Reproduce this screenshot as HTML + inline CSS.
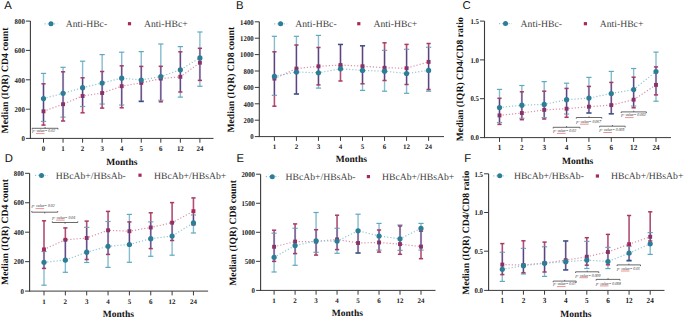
<!DOCTYPE html>
<html><head><meta charset="utf-8"><title>CD4 CD8 HBc</title>
<style>
html,body{margin:0;padding:0;background:#fff;}
body{width:685px;height:318px;overflow:hidden;}
svg{display:block;}
</style></head><body>
<svg width="685" height="318" viewBox="0 0 685 318" text-rendering="geometricPrecision">
<rect width="685" height="318" fill="#fff"/>
<text x="4.2" y="9" font-family='"Liberation Sans", sans-serif' font-size="11.3" font-weight="normal" font-style="normal" text-anchor="start" fill="#111" >A</text>
<text transform="translate(8.4,80.5) rotate(-90)" x="0" y="0" font-family='"Liberation Serif", serif' font-size="9.7" font-weight="bold" text-anchor="middle" fill="#111">Median (IQR) CD4 count</text>
<line x1="30.4" y1="21.1" x2="30.4" y2="138.9" stroke="#3a3a3a" stroke-width="1.1" />
<line x1="29.9" y1="138.4" x2="213.5" y2="138.4" stroke="#3a3a3a" stroke-width="1" />
<line x1="25.9" y1="21.1" x2="30.4" y2="21.1" stroke="#3a3a3a" stroke-width="1" />
<text transform="translate(24.8,23.84) scale(0.92,1)" font-family='"Liberation Serif", serif' font-size="7.4" font-weight="bold" text-anchor="end" fill="#1a1a1a">800</text>
<line x1="25.9" y1="50.4" x2="30.4" y2="50.4" stroke="#3a3a3a" stroke-width="1" />
<text transform="translate(24.8,53.14) scale(0.92,1)" font-family='"Liberation Serif", serif' font-size="7.4" font-weight="bold" text-anchor="end" fill="#1a1a1a">600</text>
<line x1="25.9" y1="79.8" x2="30.4" y2="79.8" stroke="#3a3a3a" stroke-width="1" />
<text transform="translate(24.8,82.54) scale(0.92,1)" font-family='"Liberation Serif", serif' font-size="7.4" font-weight="bold" text-anchor="end" fill="#1a1a1a">400</text>
<line x1="25.9" y1="109.2" x2="30.4" y2="109.2" stroke="#3a3a3a" stroke-width="1" />
<text transform="translate(24.8,111.94) scale(0.92,1)" font-family='"Liberation Serif", serif' font-size="7.4" font-weight="bold" text-anchor="end" fill="#1a1a1a">200</text>
<line x1="25.9" y1="138.4" x2="30.4" y2="138.4" stroke="#3a3a3a" stroke-width="1" />
<text transform="translate(24.8,141.14) scale(0.92,1)" font-family='"Liberation Serif", serif' font-size="7.4" font-weight="bold" text-anchor="end" fill="#1a1a1a">0</text>
<line x1="43.5" y1="138.4" x2="43.5" y2="142.7" stroke="#3a3a3a" stroke-width="1" />
<text transform="translate(43.5,150.7) scale(0.95,1)" font-family='"Liberation Serif", serif' font-size="7.3" font-weight="bold" text-anchor="middle" fill="#1a1a1a">0</text>
<line x1="63.05" y1="138.4" x2="63.05" y2="142.7" stroke="#3a3a3a" stroke-width="1" />
<text transform="translate(63.05,150.7) scale(0.95,1)" font-family='"Liberation Serif", serif' font-size="7.3" font-weight="bold" text-anchor="middle" fill="#1a1a1a">1</text>
<line x1="82.6" y1="138.4" x2="82.6" y2="142.7" stroke="#3a3a3a" stroke-width="1" />
<text transform="translate(82.6,150.7) scale(0.95,1)" font-family='"Liberation Serif", serif' font-size="7.3" font-weight="bold" text-anchor="middle" fill="#1a1a1a">2</text>
<line x1="102.15" y1="138.4" x2="102.15" y2="142.7" stroke="#3a3a3a" stroke-width="1" />
<text transform="translate(102.15,150.7) scale(0.95,1)" font-family='"Liberation Serif", serif' font-size="7.3" font-weight="bold" text-anchor="middle" fill="#1a1a1a">3</text>
<line x1="121.7" y1="138.4" x2="121.7" y2="142.7" stroke="#3a3a3a" stroke-width="1" />
<text transform="translate(121.7,150.7) scale(0.95,1)" font-family='"Liberation Serif", serif' font-size="7.3" font-weight="bold" text-anchor="middle" fill="#1a1a1a">4</text>
<line x1="141.25" y1="138.4" x2="141.25" y2="142.7" stroke="#3a3a3a" stroke-width="1" />
<text transform="translate(141.25,150.7) scale(0.95,1)" font-family='"Liberation Serif", serif' font-size="7.3" font-weight="bold" text-anchor="middle" fill="#1a1a1a">5</text>
<line x1="160.8" y1="138.4" x2="160.8" y2="142.7" stroke="#3a3a3a" stroke-width="1" />
<text transform="translate(160.8,150.7) scale(0.95,1)" font-family='"Liberation Serif", serif' font-size="7.3" font-weight="bold" text-anchor="middle" fill="#1a1a1a">6</text>
<line x1="180.35" y1="138.4" x2="180.35" y2="142.7" stroke="#3a3a3a" stroke-width="1" />
<text transform="translate(180.35,150.7) scale(0.95,1)" font-family='"Liberation Serif", serif' font-size="7.3" font-weight="bold" text-anchor="middle" fill="#1a1a1a">12</text>
<line x1="199.9" y1="138.4" x2="199.9" y2="142.7" stroke="#3a3a3a" stroke-width="1" />
<text transform="translate(199.9,150.7) scale(0.95,1)" font-family='"Liberation Serif", serif' font-size="7.3" font-weight="bold" text-anchor="middle" fill="#1a1a1a">24</text>
<text x="121.8" y="164.5" font-family='"Liberation Serif", serif' font-size="9.5" font-weight="bold" font-style="normal" text-anchor="middle" fill="#111" >Months</text>
<line x1="44.5" y1="23.8" x2="57.5" y2="23.8" stroke="#94c6d5" stroke-width="1.2" stroke-dasharray="1.2 1.95"/>
<circle cx="51" cy="23.8" r="2.5" fill="#2b7e97"/>
<text x="65.7" y="27.2" font-family='"Liberation Serif", serif' font-size="9.7" font-weight="normal" font-style="normal" text-anchor="start" fill="#404040" >Anti-HBc-</text>
<rect x="127.9" y="22.1" width="3.2" height="3.2" fill="#a8285a"/>
<text x="144" y="27.2" font-family='"Liberation Serif", serif' font-size="9.7" font-weight="normal" font-style="normal" text-anchor="start" fill="#404040" >Anti-HBc+</text>
<polyline points="43.5,111.3 63.05,104.2 82.6,96 102.15,93 121.7,86.2 141.25,82.9 160.8,78.6 180.35,76.8 199.9,62.7" fill="none" stroke="#d990ab" stroke-width="1.2" stroke-dasharray="1.2 1.95"/>
<polyline points="43.5,98.6 63.05,93.3 82.6,87.7 102.15,83 121.7,78.2 141.25,80 160.8,76.6 180.35,69.8 199.9,57.9" fill="none" stroke="#94c6d5" stroke-width="1.2" stroke-dasharray="1.2 1.95"/>
<line x1="43.5" y1="73.4" x2="43.5" y2="121.4" stroke="#86bccd" stroke-width="1.4" />
<line x1="40.9" y1="73.4" x2="46.1" y2="73.4" stroke="#5ea9c1" stroke-width="1.2" />
<line x1="40.9" y1="121.4" x2="46.1" y2="121.4" stroke="#5ea9c1" stroke-width="1.2" />
<line x1="63.05" y1="67.3" x2="63.05" y2="117.1" stroke="#86bccd" stroke-width="1.4" />
<line x1="60.45" y1="67.3" x2="65.65" y2="67.3" stroke="#5ea9c1" stroke-width="1.2" />
<line x1="60.45" y1="117.1" x2="65.65" y2="117.1" stroke="#5ea9c1" stroke-width="1.2" />
<line x1="82.6" y1="61.2" x2="82.6" y2="106.5" stroke="#86bccd" stroke-width="1.4" />
<line x1="80" y1="61.2" x2="85.2" y2="61.2" stroke="#5ea9c1" stroke-width="1.2" />
<line x1="80" y1="106.5" x2="85.2" y2="106.5" stroke="#5ea9c1" stroke-width="1.2" />
<line x1="102.15" y1="54.6" x2="102.15" y2="104" stroke="#86bccd" stroke-width="1.4" />
<line x1="99.55" y1="54.6" x2="104.75" y2="54.6" stroke="#5ea9c1" stroke-width="1.2" />
<line x1="99.55" y1="104" x2="104.75" y2="104" stroke="#5ea9c1" stroke-width="1.2" />
<line x1="121.7" y1="52.2" x2="121.7" y2="105" stroke="#86bccd" stroke-width="1.4" />
<line x1="119.1" y1="52.2" x2="124.3" y2="52.2" stroke="#5ea9c1" stroke-width="1.2" />
<line x1="119.1" y1="105" x2="124.3" y2="105" stroke="#5ea9c1" stroke-width="1.2" />
<line x1="141.25" y1="51.6" x2="141.25" y2="100.9" stroke="#86bccd" stroke-width="1.4" />
<line x1="138.65" y1="51.6" x2="143.85" y2="51.6" stroke="#5ea9c1" stroke-width="1.2" />
<line x1="138.65" y1="100.9" x2="143.85" y2="100.9" stroke="#5ea9c1" stroke-width="1.2" />
<line x1="160.8" y1="44" x2="160.8" y2="100.3" stroke="#86bccd" stroke-width="1.4" />
<line x1="158.2" y1="44" x2="163.4" y2="44" stroke="#5ea9c1" stroke-width="1.2" />
<line x1="158.2" y1="100.3" x2="163.4" y2="100.3" stroke="#5ea9c1" stroke-width="1.2" />
<line x1="180.35" y1="46.6" x2="180.35" y2="97.1" stroke="#86bccd" stroke-width="1.4" />
<line x1="177.75" y1="46.6" x2="182.95" y2="46.6" stroke="#5ea9c1" stroke-width="1.2" />
<line x1="177.75" y1="97.1" x2="182.95" y2="97.1" stroke="#5ea9c1" stroke-width="1.2" />
<line x1="199.9" y1="32" x2="199.9" y2="86.3" stroke="#86bccd" stroke-width="1.4" />
<line x1="197.3" y1="32" x2="202.5" y2="32" stroke="#5ea9c1" stroke-width="1.2" />
<line x1="197.3" y1="86.3" x2="202.5" y2="86.3" stroke="#5ea9c1" stroke-width="1.2" />
<line x1="43.5" y1="121.4" x2="43.5" y2="125.1" stroke="#b04e74" stroke-width="1.6" />
<line x1="43.5" y1="83.8" x2="43.5" y2="121.4" stroke="#e6c6d4" stroke-width="2.3" />
<rect x="41.55" y="109.35" width="3.9" height="3.9" fill="#a8285a"/>
<line x1="43.5" y1="83.8" x2="43.5" y2="121.4" stroke="#4f4987" stroke-width="1.2" />
<line x1="41.4" y1="83.8" x2="45.6" y2="83.8" stroke="#a83a64" stroke-width="1.5" />
<line x1="41.4" y1="125.1" x2="45.6" y2="125.1" stroke="#a83a64" stroke-width="1.5" />
<line x1="63.05" y1="117.1" x2="63.05" y2="121" stroke="#b04e74" stroke-width="1.6" />
<line x1="63.05" y1="71.8" x2="63.05" y2="117.1" stroke="#e6c6d4" stroke-width="2.3" />
<rect x="61.1" y="102.25" width="3.9" height="3.9" fill="#a8285a"/>
<line x1="63.05" y1="71.8" x2="63.05" y2="117.1" stroke="#4f4987" stroke-width="1.2" />
<line x1="60.95" y1="71.8" x2="65.15" y2="71.8" stroke="#a83a64" stroke-width="1.5" />
<line x1="60.95" y1="121" x2="65.15" y2="121" stroke="#a83a64" stroke-width="1.5" />
<line x1="82.6" y1="106.5" x2="82.6" y2="112.8" stroke="#b04e74" stroke-width="1.6" />
<line x1="82.6" y1="77.8" x2="82.6" y2="106.5" stroke="#e6c6d4" stroke-width="2.3" />
<rect x="80.65" y="94.05" width="3.9" height="3.9" fill="#a8285a"/>
<line x1="82.6" y1="77.8" x2="82.6" y2="106.5" stroke="#4f4987" stroke-width="1.2" />
<line x1="80.5" y1="77.8" x2="84.7" y2="77.8" stroke="#a83a64" stroke-width="1.5" />
<line x1="80.5" y1="112.8" x2="84.7" y2="112.8" stroke="#a83a64" stroke-width="1.5" />
<line x1="102.15" y1="104" x2="102.15" y2="108.1" stroke="#b04e74" stroke-width="1.6" />
<line x1="102.15" y1="71.5" x2="102.15" y2="104" stroke="#e6c6d4" stroke-width="2.3" />
<rect x="100.2" y="91.05" width="3.9" height="3.9" fill="#a8285a"/>
<line x1="102.15" y1="71.5" x2="102.15" y2="104" stroke="#4f4987" stroke-width="1.2" />
<line x1="100.05" y1="71.5" x2="104.25" y2="71.5" stroke="#a83a64" stroke-width="1.5" />
<line x1="100.05" y1="108.1" x2="104.25" y2="108.1" stroke="#a83a64" stroke-width="1.5" />
<line x1="121.7" y1="105" x2="121.7" y2="107.8" stroke="#b04e74" stroke-width="1.6" />
<line x1="121.7" y1="65.8" x2="121.7" y2="105" stroke="#e6c6d4" stroke-width="2.3" />
<rect x="119.75" y="84.25" width="3.9" height="3.9" fill="#a8285a"/>
<line x1="121.7" y1="65.8" x2="121.7" y2="105" stroke="#4f4987" stroke-width="1.2" />
<line x1="119.6" y1="65.8" x2="123.8" y2="65.8" stroke="#a83a64" stroke-width="1.5" />
<line x1="119.6" y1="107.8" x2="123.8" y2="107.8" stroke="#a83a64" stroke-width="1.5" />
<line x1="141.25" y1="100.9" x2="141.25" y2="101.5" stroke="#b04e74" stroke-width="1.6" />
<line x1="141.25" y1="66.4" x2="141.25" y2="100.9" stroke="#e6c6d4" stroke-width="2.3" />
<rect x="139.3" y="80.95" width="3.9" height="3.9" fill="#a8285a"/>
<line x1="141.25" y1="66.4" x2="141.25" y2="100.9" stroke="#4f4987" stroke-width="1.2" />
<line x1="139.15" y1="66.4" x2="143.35" y2="66.4" stroke="#a83a64" stroke-width="1.5" />
<line x1="138.75" y1="101.5" x2="143.75" y2="101.5" stroke="#3f4a80" stroke-width="1.4" />
<line x1="160.8" y1="100.3" x2="160.8" y2="101.8" stroke="#b04e74" stroke-width="1.6" />
<line x1="160.8" y1="66.3" x2="160.8" y2="100.3" stroke="#e6c6d4" stroke-width="2.3" />
<rect x="158.85" y="76.65" width="3.9" height="3.9" fill="#a8285a"/>
<line x1="160.8" y1="66.3" x2="160.8" y2="100.3" stroke="#4f4987" stroke-width="1.2" />
<line x1="158.7" y1="66.3" x2="162.9" y2="66.3" stroke="#a83a64" stroke-width="1.5" />
<line x1="158.7" y1="101.8" x2="162.9" y2="101.8" stroke="#a83a64" stroke-width="1.5" />
<line x1="180.35" y1="51.8" x2="180.35" y2="92" stroke="#e6c6d4" stroke-width="2.3" />
<rect x="178.4" y="74.85" width="3.9" height="3.9" fill="#a8285a"/>
<line x1="180.35" y1="51.8" x2="180.35" y2="92" stroke="#4f4987" stroke-width="1.2" />
<line x1="178.25" y1="51.8" x2="182.45" y2="51.8" stroke="#a83a64" stroke-width="1.5" />
<line x1="178.25" y1="92" x2="182.45" y2="92" stroke="#a83a64" stroke-width="1.5" />
<line x1="199.9" y1="48.3" x2="199.9" y2="80.4" stroke="#e6c6d4" stroke-width="2.3" />
<rect x="197.95" y="60.75" width="3.9" height="3.9" fill="#a8285a"/>
<line x1="199.9" y1="48.3" x2="199.9" y2="80.4" stroke="#4f4987" stroke-width="1.2" />
<line x1="197.8" y1="48.3" x2="202" y2="48.3" stroke="#a83a64" stroke-width="1.5" />
<line x1="197.8" y1="80.4" x2="202" y2="80.4" stroke="#a83a64" stroke-width="1.5" />
<circle cx="43.5" cy="98.6" r="2.6" fill="#2b7e97"/>
<circle cx="63.05" cy="93.3" r="2.6" fill="#2b7e97"/>
<circle cx="82.6" cy="87.7" r="2.6" fill="#2b7e97"/>
<circle cx="102.15" cy="83" r="2.6" fill="#2b7e97"/>
<circle cx="121.7" cy="78.2" r="2.6" fill="#2b7e97"/>
<circle cx="141.25" cy="80" r="2.6" fill="#2b7e97"/>
<circle cx="160.8" cy="76.6" r="2.6" fill="#2b7e97"/>
<circle cx="180.35" cy="69.8" r="2.6" fill="#2b7e97"/>
<circle cx="199.9" cy="57.9" r="2.6" fill="#2b7e97"/>
<path d="M32.2,129.5 L32.2,128.3 L58,128.3 L58,129.5 M45.1,128.3 L45.1,127.1" fill="none" stroke="#444" stroke-width="0.8"/>
<text transform="translate(32.2,132.4) scale(0.86,1)" font-family='"Liberation Serif", serif' font-size="4.5" font-style="italic" fill="#333">p- value= 0.02</text>
<line x1="36" y1="133.6" x2="44.6" y2="133.6" stroke="#e04848" stroke-width="0.6"/>
<text x="236" y="9" font-family='"Liberation Sans", sans-serif' font-size="11.3" font-weight="normal" font-style="normal" text-anchor="start" fill="#111" >B</text>
<text transform="translate(234.2,79.7) rotate(-90)" x="0" y="0" font-family='"Liberation Serif", serif' font-size="9.7" font-weight="bold" text-anchor="middle" fill="#111">Median (IQR) CD8 count</text>
<line x1="259.3" y1="21.8" x2="259.3" y2="137.1" stroke="#3a3a3a" stroke-width="1.1" />
<line x1="258.8" y1="136.6" x2="444" y2="136.6" stroke="#3a3a3a" stroke-width="1" />
<line x1="254.8" y1="21.8" x2="259.3" y2="21.8" stroke="#3a3a3a" stroke-width="1" />
<text transform="translate(253.7,24.54) scale(0.92,1)" font-family='"Liberation Serif", serif' font-size="7.4" font-weight="bold" text-anchor="end" fill="#1a1a1a">1400</text>
<line x1="254.8" y1="38.2" x2="259.3" y2="38.2" stroke="#3a3a3a" stroke-width="1" />
<text transform="translate(253.7,40.94) scale(0.92,1)" font-family='"Liberation Serif", serif' font-size="7.4" font-weight="bold" text-anchor="end" fill="#1a1a1a">1200</text>
<line x1="254.8" y1="54.6" x2="259.3" y2="54.6" stroke="#3a3a3a" stroke-width="1" />
<text transform="translate(253.7,57.34) scale(0.92,1)" font-family='"Liberation Serif", serif' font-size="7.4" font-weight="bold" text-anchor="end" fill="#1a1a1a">1000</text>
<line x1="254.8" y1="71" x2="259.3" y2="71" stroke="#3a3a3a" stroke-width="1" />
<text transform="translate(253.7,73.74) scale(0.92,1)" font-family='"Liberation Serif", serif' font-size="7.4" font-weight="bold" text-anchor="end" fill="#1a1a1a">800</text>
<line x1="254.8" y1="87.4" x2="259.3" y2="87.4" stroke="#3a3a3a" stroke-width="1" />
<text transform="translate(253.7,90.14) scale(0.92,1)" font-family='"Liberation Serif", serif' font-size="7.4" font-weight="bold" text-anchor="end" fill="#1a1a1a">600</text>
<line x1="254.8" y1="103.8" x2="259.3" y2="103.8" stroke="#3a3a3a" stroke-width="1" />
<text transform="translate(253.7,106.54) scale(0.92,1)" font-family='"Liberation Serif", serif' font-size="7.4" font-weight="bold" text-anchor="end" fill="#1a1a1a">400</text>
<line x1="254.8" y1="120.2" x2="259.3" y2="120.2" stroke="#3a3a3a" stroke-width="1" />
<text transform="translate(253.7,122.94) scale(0.92,1)" font-family='"Liberation Serif", serif' font-size="7.4" font-weight="bold" text-anchor="end" fill="#1a1a1a">200</text>
<line x1="254.8" y1="136.6" x2="259.3" y2="136.6" stroke="#3a3a3a" stroke-width="1" />
<text transform="translate(253.7,139.34) scale(0.92,1)" font-family='"Liberation Serif", serif' font-size="7.4" font-weight="bold" text-anchor="end" fill="#1a1a1a">0</text>
<line x1="274.4" y1="136.6" x2="274.4" y2="140.9" stroke="#3a3a3a" stroke-width="1" />
<text transform="translate(274.4,149) scale(1.0,1)" font-family='"Liberation Serif", serif' font-size="7" font-weight="bold" text-anchor="middle" fill="#1a1a1a">1</text>
<line x1="296.43" y1="136.6" x2="296.43" y2="140.9" stroke="#3a3a3a" stroke-width="1" />
<text transform="translate(296.43,149) scale(1.0,1)" font-family='"Liberation Serif", serif' font-size="7" font-weight="bold" text-anchor="middle" fill="#1a1a1a">2</text>
<line x1="318.46" y1="136.6" x2="318.46" y2="140.9" stroke="#3a3a3a" stroke-width="1" />
<text transform="translate(318.46,149) scale(1.0,1)" font-family='"Liberation Serif", serif' font-size="7" font-weight="bold" text-anchor="middle" fill="#1a1a1a">3</text>
<line x1="340.49" y1="136.6" x2="340.49" y2="140.9" stroke="#3a3a3a" stroke-width="1" />
<text transform="translate(340.49,149) scale(1.0,1)" font-family='"Liberation Serif", serif' font-size="7" font-weight="bold" text-anchor="middle" fill="#1a1a1a">4</text>
<line x1="362.51" y1="136.6" x2="362.51" y2="140.9" stroke="#3a3a3a" stroke-width="1" />
<text transform="translate(362.51,149) scale(1.0,1)" font-family='"Liberation Serif", serif' font-size="7" font-weight="bold" text-anchor="middle" fill="#1a1a1a">5</text>
<line x1="384.54" y1="136.6" x2="384.54" y2="140.9" stroke="#3a3a3a" stroke-width="1" />
<text transform="translate(384.54,149) scale(1.0,1)" font-family='"Liberation Serif", serif' font-size="7" font-weight="bold" text-anchor="middle" fill="#1a1a1a">6</text>
<line x1="406.57" y1="136.6" x2="406.57" y2="140.9" stroke="#3a3a3a" stroke-width="1" />
<text transform="translate(406.57,149) scale(1.0,1)" font-family='"Liberation Serif", serif' font-size="7" font-weight="bold" text-anchor="middle" fill="#1a1a1a">12</text>
<line x1="428.6" y1="136.6" x2="428.6" y2="140.9" stroke="#3a3a3a" stroke-width="1" />
<text transform="translate(428.6,149) scale(1.0,1)" font-family='"Liberation Serif", serif' font-size="7" font-weight="bold" text-anchor="middle" fill="#1a1a1a">24</text>
<text x="351.4" y="162.2" font-family='"Liberation Serif", serif' font-size="9.5" font-weight="bold" font-style="normal" text-anchor="middle" fill="#111" >Months</text>
<line x1="274.1" y1="23.8" x2="287.1" y2="23.8" stroke="#94c6d5" stroke-width="1.2" stroke-dasharray="1.2 1.95"/>
<circle cx="280.6" cy="23.8" r="2.5" fill="#2b7e97"/>
<text x="295.2" y="27.2" font-family='"Liberation Serif", serif' font-size="9.7" font-weight="normal" font-style="normal" text-anchor="start" fill="#404040" >Anti-HBc-</text>
<rect x="357.2" y="22.1" width="3.2" height="3.2" fill="#a8285a"/>
<text x="373.5" y="27.2" font-family='"Liberation Serif", serif' font-size="9.7" font-weight="normal" font-style="normal" text-anchor="start" fill="#404040" >Anti-HBc+</text>
<polyline points="274.4,78.6 296.43,68.6 318.46,66.3 340.49,65 362.51,66.2 384.54,67.8 406.57,68.2 428.6,61.9" fill="none" stroke="#d990ab" stroke-width="1.2" stroke-dasharray="1.2 1.95"/>
<polyline points="274.4,76.4 296.43,72 318.46,72.8 340.49,68.8 362.51,70.4 384.54,71.2 406.57,73.5 428.6,70.4" fill="none" stroke="#94c6d5" stroke-width="1.2" stroke-dasharray="1.2 1.95"/>
<line x1="274.4" y1="36.3" x2="274.4" y2="95.3" stroke="#86bccd" stroke-width="1.4" />
<line x1="271.8" y1="36.3" x2="277" y2="36.3" stroke="#5ea9c1" stroke-width="1.2" />
<line x1="271.8" y1="95.3" x2="277" y2="95.3" stroke="#5ea9c1" stroke-width="1.2" />
<line x1="296.43" y1="36.3" x2="296.43" y2="94" stroke="#86bccd" stroke-width="1.4" />
<line x1="293.83" y1="36.3" x2="299.03" y2="36.3" stroke="#5ea9c1" stroke-width="1.2" />
<line x1="293.83" y1="94" x2="299.03" y2="94" stroke="#5ea9c1" stroke-width="1.2" />
<line x1="318.46" y1="35.4" x2="318.46" y2="88.1" stroke="#86bccd" stroke-width="1.4" />
<line x1="315.86" y1="35.4" x2="321.06" y2="35.4" stroke="#5ea9c1" stroke-width="1.2" />
<line x1="315.86" y1="88.1" x2="321.06" y2="88.1" stroke="#5ea9c1" stroke-width="1.2" />
<line x1="340.49" y1="44.4" x2="340.49" y2="65.8" stroke="#86bccd" stroke-width="1.4" />
<line x1="337.89" y1="44.4" x2="343.09" y2="44.4" stroke="#5ea9c1" stroke-width="1.2" />
<line x1="337.89" y1="65.8" x2="343.09" y2="65.8" stroke="#5ea9c1" stroke-width="1.2" />
<line x1="362.51" y1="45.7" x2="362.51" y2="90.4" stroke="#86bccd" stroke-width="1.4" />
<line x1="359.91" y1="45.7" x2="365.11" y2="45.7" stroke="#5ea9c1" stroke-width="1.2" />
<line x1="359.91" y1="90.4" x2="365.11" y2="90.4" stroke="#5ea9c1" stroke-width="1.2" />
<line x1="384.54" y1="50.4" x2="384.54" y2="91.2" stroke="#86bccd" stroke-width="1.4" />
<line x1="381.94" y1="50.4" x2="387.14" y2="50.4" stroke="#5ea9c1" stroke-width="1.2" />
<line x1="381.94" y1="91.2" x2="387.14" y2="91.2" stroke="#5ea9c1" stroke-width="1.2" />
<line x1="406.57" y1="49.3" x2="406.57" y2="93.3" stroke="#86bccd" stroke-width="1.4" />
<line x1="403.97" y1="49.3" x2="409.17" y2="49.3" stroke="#5ea9c1" stroke-width="1.2" />
<line x1="403.97" y1="93.3" x2="409.17" y2="93.3" stroke="#5ea9c1" stroke-width="1.2" />
<line x1="428.6" y1="47.3" x2="428.6" y2="91.2" stroke="#86bccd" stroke-width="1.4" />
<line x1="426" y1="47.3" x2="431.2" y2="47.3" stroke="#5ea9c1" stroke-width="1.2" />
<line x1="426" y1="91.2" x2="431.2" y2="91.2" stroke="#5ea9c1" stroke-width="1.2" />
<line x1="274.4" y1="95.3" x2="274.4" y2="106.2" stroke="#b04e74" stroke-width="1.6" />
<line x1="274.4" y1="51.8" x2="274.4" y2="95.3" stroke="#e6c6d4" stroke-width="2.3" />
<rect x="272.45" y="76.65" width="3.9" height="3.9" fill="#a8285a"/>
<line x1="274.4" y1="51.8" x2="274.4" y2="95.3" stroke="#4f4987" stroke-width="1.2" />
<line x1="272.3" y1="51.8" x2="276.5" y2="51.8" stroke="#a83a64" stroke-width="1.5" />
<line x1="272.3" y1="106.2" x2="276.5" y2="106.2" stroke="#a83a64" stroke-width="1.5" />
<line x1="296.43" y1="45" x2="296.43" y2="94" stroke="#e6c6d4" stroke-width="2.3" />
<rect x="294.48" y="66.65" width="3.9" height="3.9" fill="#a8285a"/>
<line x1="296.43" y1="45" x2="296.43" y2="94" stroke="#4f4987" stroke-width="1.2" />
<line x1="294.33" y1="45" x2="298.53" y2="45" stroke="#a83a64" stroke-width="1.5" />
<line x1="293.93" y1="94" x2="298.93" y2="94" stroke="#3f4a80" stroke-width="1.4" />
<line x1="318.46" y1="47.5" x2="318.46" y2="84.9" stroke="#e6c6d4" stroke-width="2.3" />
<rect x="316.51" y="64.35" width="3.9" height="3.9" fill="#a8285a"/>
<line x1="318.46" y1="47.5" x2="318.46" y2="84.9" stroke="#4f4987" stroke-width="1.2" />
<line x1="316.36" y1="47.5" x2="320.56" y2="47.5" stroke="#a83a64" stroke-width="1.5" />
<line x1="316.36" y1="84.9" x2="320.56" y2="84.9" stroke="#a83a64" stroke-width="1.5" />
<line x1="340.49" y1="65.8" x2="340.49" y2="81" stroke="#b04e74" stroke-width="1.6" />
<line x1="340.49" y1="44.5" x2="340.49" y2="65.8" stroke="#e6c6d4" stroke-width="2.3" />
<rect x="338.54" y="63.05" width="3.9" height="3.9" fill="#a8285a"/>
<line x1="340.49" y1="44.5" x2="340.49" y2="65.8" stroke="#4f4987" stroke-width="1.2" />
<line x1="337.99" y1="44.5" x2="342.99" y2="44.5" stroke="#3f4a80" stroke-width="1.4" />
<line x1="338.39" y1="81" x2="342.59" y2="81" stroke="#a83a64" stroke-width="1.5" />
<line x1="362.51" y1="45.8" x2="362.51" y2="83.8" stroke="#e6c6d4" stroke-width="2.3" />
<rect x="360.56" y="64.25" width="3.9" height="3.9" fill="#a8285a"/>
<line x1="362.51" y1="45.8" x2="362.51" y2="83.8" stroke="#4f4987" stroke-width="1.2" />
<line x1="360.01" y1="45.8" x2="365.01" y2="45.8" stroke="#3f4a80" stroke-width="1.4" />
<line x1="360.41" y1="83.8" x2="364.61" y2="83.8" stroke="#a83a64" stroke-width="1.5" />
<line x1="384.54" y1="42.8" x2="384.54" y2="50.4" stroke="#b04e74" stroke-width="1.6" />
<line x1="384.54" y1="50.4" x2="384.54" y2="80.5" stroke="#e6c6d4" stroke-width="2.3" />
<rect x="382.59" y="65.85" width="3.9" height="3.9" fill="#a8285a"/>
<line x1="384.54" y1="50.4" x2="384.54" y2="80.5" stroke="#4f4987" stroke-width="1.2" />
<line x1="382.44" y1="42.8" x2="386.64" y2="42.8" stroke="#a83a64" stroke-width="1.5" />
<line x1="382.44" y1="80.5" x2="386.64" y2="80.5" stroke="#a83a64" stroke-width="1.5" />
<line x1="406.57" y1="44.4" x2="406.57" y2="49.3" stroke="#b04e74" stroke-width="1.6" />
<line x1="406.57" y1="49.3" x2="406.57" y2="84.5" stroke="#e6c6d4" stroke-width="2.3" />
<rect x="404.62" y="66.25" width="3.9" height="3.9" fill="#a8285a"/>
<line x1="406.57" y1="49.3" x2="406.57" y2="84.5" stroke="#4f4987" stroke-width="1.2" />
<line x1="404.47" y1="44.4" x2="408.67" y2="44.4" stroke="#a83a64" stroke-width="1.5" />
<line x1="404.47" y1="84.5" x2="408.67" y2="84.5" stroke="#a83a64" stroke-width="1.5" />
<line x1="428.6" y1="43.5" x2="428.6" y2="47.3" stroke="#b04e74" stroke-width="1.6" />
<line x1="428.6" y1="47.3" x2="428.6" y2="89.5" stroke="#e6c6d4" stroke-width="2.3" />
<rect x="426.65" y="59.95" width="3.9" height="3.9" fill="#a8285a"/>
<line x1="428.6" y1="47.3" x2="428.6" y2="89.5" stroke="#4f4987" stroke-width="1.2" />
<line x1="426.5" y1="43.5" x2="430.7" y2="43.5" stroke="#a83a64" stroke-width="1.5" />
<line x1="426.5" y1="89.5" x2="430.7" y2="89.5" stroke="#a83a64" stroke-width="1.5" />
<circle cx="274.4" cy="76.4" r="2.6" fill="#2b7e97"/>
<circle cx="296.43" cy="72" r="2.6" fill="#2b7e97"/>
<circle cx="318.46" cy="72.8" r="2.6" fill="#2b7e97"/>
<circle cx="340.49" cy="68.8" r="2.6" fill="#2b7e97"/>
<circle cx="362.51" cy="70.4" r="2.6" fill="#2b7e97"/>
<circle cx="384.54" cy="71.2" r="2.6" fill="#2b7e97"/>
<circle cx="406.57" cy="73.5" r="2.6" fill="#2b7e97"/>
<circle cx="428.6" cy="70.4" r="2.6" fill="#2b7e97"/>
<text x="462.6" y="9" font-family='"Liberation Sans", sans-serif' font-size="11.3" font-weight="normal" font-style="normal" text-anchor="start" fill="#111" >C</text>
<text transform="translate(462.8,79.3) rotate(-90)" x="0" y="0" font-family='"Liberation Serif", serif' font-size="9.7" font-weight="bold" text-anchor="middle" fill="#111">Median (IQR) CD4/CD8 ratio</text>
<line x1="484.5" y1="21.1" x2="484.5" y2="138.1" stroke="#3a3a3a" stroke-width="1.1" />
<line x1="484" y1="137.6" x2="671" y2="137.6" stroke="#3a3a3a" stroke-width="1" />
<line x1="480" y1="21.1" x2="484.5" y2="21.1" stroke="#3a3a3a" stroke-width="1" />
<text transform="translate(478.9,23.84) scale(0.92,1)" font-family='"Liberation Serif", serif' font-size="7.4" font-weight="bold" text-anchor="end" fill="#1a1a1a">1.5</text>
<line x1="480" y1="59.9" x2="484.5" y2="59.9" stroke="#3a3a3a" stroke-width="1" />
<text transform="translate(478.9,62.64) scale(0.92,1)" font-family='"Liberation Serif", serif' font-size="7.4" font-weight="bold" text-anchor="end" fill="#1a1a1a">1.0</text>
<line x1="480" y1="98.7" x2="484.5" y2="98.7" stroke="#3a3a3a" stroke-width="1" />
<text transform="translate(478.9,101.44) scale(0.92,1)" font-family='"Liberation Serif", serif' font-size="7.4" font-weight="bold" text-anchor="end" fill="#1a1a1a">0.5</text>
<line x1="480" y1="137.6" x2="484.5" y2="137.6" stroke="#3a3a3a" stroke-width="1" />
<text transform="translate(478.9,140.34) scale(0.92,1)" font-family='"Liberation Serif", serif' font-size="7.4" font-weight="bold" text-anchor="end" fill="#1a1a1a">0.0</text>
<line x1="499.5" y1="137.6" x2="499.5" y2="141.9" stroke="#3a3a3a" stroke-width="1" />
<text transform="translate(499.5,150.4) scale(0.92,1)" font-family='"Liberation Serif", serif' font-size="7.8" font-weight="bold" text-anchor="middle" fill="#1a1a1a">1</text>
<line x1="521.86" y1="137.6" x2="521.86" y2="141.9" stroke="#3a3a3a" stroke-width="1" />
<text transform="translate(521.86,150.4) scale(0.92,1)" font-family='"Liberation Serif", serif' font-size="7.8" font-weight="bold" text-anchor="middle" fill="#1a1a1a">2</text>
<line x1="544.21" y1="137.6" x2="544.21" y2="141.9" stroke="#3a3a3a" stroke-width="1" />
<text transform="translate(544.21,150.4) scale(0.92,1)" font-family='"Liberation Serif", serif' font-size="7.8" font-weight="bold" text-anchor="middle" fill="#1a1a1a">3</text>
<line x1="566.57" y1="137.6" x2="566.57" y2="141.9" stroke="#3a3a3a" stroke-width="1" />
<text transform="translate(566.57,150.4) scale(0.92,1)" font-family='"Liberation Serif", serif' font-size="7.8" font-weight="bold" text-anchor="middle" fill="#1a1a1a">4</text>
<line x1="588.93" y1="137.6" x2="588.93" y2="141.9" stroke="#3a3a3a" stroke-width="1" />
<text transform="translate(588.93,150.4) scale(0.92,1)" font-family='"Liberation Serif", serif' font-size="7.8" font-weight="bold" text-anchor="middle" fill="#1a1a1a">5</text>
<line x1="611.29" y1="137.6" x2="611.29" y2="141.9" stroke="#3a3a3a" stroke-width="1" />
<text transform="translate(611.29,150.4) scale(0.92,1)" font-family='"Liberation Serif", serif' font-size="7.8" font-weight="bold" text-anchor="middle" fill="#1a1a1a">6</text>
<line x1="633.64" y1="137.6" x2="633.64" y2="141.9" stroke="#3a3a3a" stroke-width="1" />
<text transform="translate(633.64,150.4) scale(0.92,1)" font-family='"Liberation Serif", serif' font-size="7.8" font-weight="bold" text-anchor="middle" fill="#1a1a1a">12</text>
<line x1="656" y1="137.6" x2="656" y2="141.9" stroke="#3a3a3a" stroke-width="1" />
<text transform="translate(656,150.4) scale(0.92,1)" font-family='"Liberation Serif", serif' font-size="7.8" font-weight="bold" text-anchor="middle" fill="#1a1a1a">24</text>
<text x="577.6" y="164.2" font-family='"Liberation Serif", serif' font-size="9.5" font-weight="bold" font-style="normal" text-anchor="middle" fill="#111" >Months</text>
<line x1="499" y1="23.6" x2="512" y2="23.6" stroke="#94c6d5" stroke-width="1.2" stroke-dasharray="1.2 1.95"/>
<circle cx="505.5" cy="23.6" r="2.5" fill="#2b7e97"/>
<text x="520.6" y="27.2" font-family='"Liberation Serif", serif' font-size="9.7" font-weight="normal" font-style="normal" text-anchor="start" fill="#404040" >Anti-HBc-</text>
<rect x="583.8" y="22.1" width="3.2" height="3.2" fill="#a8285a"/>
<text x="599.7" y="27.2" font-family='"Liberation Serif", serif' font-size="9.7" font-weight="normal" font-style="normal" text-anchor="start" fill="#404040" >Anti-HBc+</text>
<polyline points="499.5,115.4 521.86,113 544.21,109.9 566.57,108.7 588.93,106.7 611.29,105.1 633.64,99.7 656,84.9" fill="none" stroke="#d990ab" stroke-width="1.2" stroke-dasharray="1.2 1.95"/>
<polyline points="499.5,107.5 521.86,105.2 544.21,104.4 566.57,99.7 588.93,98.1 611.29,93.5 633.64,89.6 656,71.6" fill="none" stroke="#94c6d5" stroke-width="1.2" stroke-dasharray="1.2 1.95"/>
<line x1="499.5" y1="89.4" x2="499.5" y2="122.5" stroke="#86bccd" stroke-width="1.4" />
<line x1="496.9" y1="89.4" x2="502.1" y2="89.4" stroke="#5ea9c1" stroke-width="1.2" />
<line x1="496.9" y1="122.5" x2="502.1" y2="122.5" stroke="#5ea9c1" stroke-width="1.2" />
<line x1="521.86" y1="85.5" x2="521.86" y2="118.3" stroke="#86bccd" stroke-width="1.4" />
<line x1="519.26" y1="85.5" x2="524.46" y2="85.5" stroke="#5ea9c1" stroke-width="1.2" />
<line x1="519.26" y1="118.3" x2="524.46" y2="118.3" stroke="#5ea9c1" stroke-width="1.2" />
<line x1="544.21" y1="81.6" x2="544.21" y2="117.6" stroke="#86bccd" stroke-width="1.4" />
<line x1="541.61" y1="81.6" x2="546.81" y2="81.6" stroke="#5ea9c1" stroke-width="1.2" />
<line x1="541.61" y1="117.6" x2="546.81" y2="117.6" stroke="#5ea9c1" stroke-width="1.2" />
<line x1="566.57" y1="83.2" x2="566.57" y2="114" stroke="#86bccd" stroke-width="1.4" />
<line x1="563.97" y1="83.2" x2="569.17" y2="83.2" stroke="#5ea9c1" stroke-width="1.2" />
<line x1="563.97" y1="114" x2="569.17" y2="114" stroke="#5ea9c1" stroke-width="1.2" />
<line x1="588.93" y1="77.4" x2="588.93" y2="113" stroke="#86bccd" stroke-width="1.4" />
<line x1="586.33" y1="77.4" x2="591.53" y2="77.4" stroke="#5ea9c1" stroke-width="1.2" />
<line x1="586.33" y1="113" x2="591.53" y2="113" stroke="#5ea9c1" stroke-width="1.2" />
<line x1="611.29" y1="71.4" x2="611.29" y2="113.8" stroke="#86bccd" stroke-width="1.4" />
<line x1="608.69" y1="71.4" x2="613.89" y2="71.4" stroke="#5ea9c1" stroke-width="1.2" />
<line x1="608.69" y1="113.8" x2="613.89" y2="113.8" stroke="#5ea9c1" stroke-width="1.2" />
<line x1="633.64" y1="68.5" x2="633.64" y2="106" stroke="#86bccd" stroke-width="1.4" />
<line x1="631.04" y1="68.5" x2="636.24" y2="68.5" stroke="#5ea9c1" stroke-width="1.2" />
<line x1="631.04" y1="106" x2="636.24" y2="106" stroke="#5ea9c1" stroke-width="1.2" />
<line x1="656" y1="52.1" x2="656" y2="101.2" stroke="#86bccd" stroke-width="1.4" />
<line x1="653.4" y1="52.1" x2="658.6" y2="52.1" stroke="#5ea9c1" stroke-width="1.2" />
<line x1="653.4" y1="101.2" x2="658.6" y2="101.2" stroke="#5ea9c1" stroke-width="1.2" />
<line x1="499.5" y1="122.5" x2="499.5" y2="124.4" stroke="#b04e74" stroke-width="1.6" />
<line x1="499.5" y1="98.3" x2="499.5" y2="122.5" stroke="#e6c6d4" stroke-width="2.3" />
<rect x="497.55" y="113.45" width="3.9" height="3.9" fill="#a8285a"/>
<line x1="499.5" y1="98.3" x2="499.5" y2="122.5" stroke="#4f4987" stroke-width="1.2" />
<line x1="497.4" y1="98.3" x2="501.6" y2="98.3" stroke="#a83a64" stroke-width="1.5" />
<line x1="497.4" y1="124.4" x2="501.6" y2="124.4" stroke="#a83a64" stroke-width="1.5" />
<line x1="521.86" y1="118.3" x2="521.86" y2="119.7" stroke="#b04e74" stroke-width="1.6" />
<line x1="521.86" y1="91.8" x2="521.86" y2="118.3" stroke="#e6c6d4" stroke-width="2.3" />
<rect x="519.91" y="111.05" width="3.9" height="3.9" fill="#a8285a"/>
<line x1="521.86" y1="91.8" x2="521.86" y2="118.3" stroke="#4f4987" stroke-width="1.2" />
<line x1="519.76" y1="91.8" x2="523.96" y2="91.8" stroke="#a83a64" stroke-width="1.5" />
<line x1="519.76" y1="119.7" x2="523.96" y2="119.7" stroke="#a83a64" stroke-width="1.5" />
<line x1="544.21" y1="117.6" x2="544.21" y2="119" stroke="#b04e74" stroke-width="1.6" />
<line x1="544.21" y1="91.2" x2="544.21" y2="117.6" stroke="#e6c6d4" stroke-width="2.3" />
<rect x="542.26" y="107.95" width="3.9" height="3.9" fill="#a8285a"/>
<line x1="544.21" y1="91.2" x2="544.21" y2="117.6" stroke="#4f4987" stroke-width="1.2" />
<line x1="542.11" y1="91.2" x2="546.31" y2="91.2" stroke="#a83a64" stroke-width="1.5" />
<line x1="542.11" y1="119" x2="546.31" y2="119" stroke="#a83a64" stroke-width="1.5" />
<line x1="566.57" y1="114" x2="566.57" y2="117.3" stroke="#b04e74" stroke-width="1.6" />
<line x1="566.57" y1="88.4" x2="566.57" y2="114" stroke="#e6c6d4" stroke-width="2.3" />
<rect x="564.62" y="106.75" width="3.9" height="3.9" fill="#a8285a"/>
<line x1="566.57" y1="88.4" x2="566.57" y2="114" stroke="#4f4987" stroke-width="1.2" />
<line x1="564.47" y1="88.4" x2="568.67" y2="88.4" stroke="#a83a64" stroke-width="1.5" />
<line x1="564.47" y1="117.3" x2="568.67" y2="117.3" stroke="#a83a64" stroke-width="1.5" />
<line x1="588.93" y1="86.4" x2="588.93" y2="113" stroke="#e6c6d4" stroke-width="2.3" />
<rect x="586.98" y="104.75" width="3.9" height="3.9" fill="#a8285a"/>
<line x1="588.93" y1="86.4" x2="588.93" y2="113" stroke="#4f4987" stroke-width="1.2" />
<line x1="586.83" y1="86.4" x2="591.03" y2="86.4" stroke="#a83a64" stroke-width="1.5" />
<line x1="586.43" y1="113" x2="591.43" y2="113" stroke="#3f4a80" stroke-width="1.4" />
<line x1="611.29" y1="82.4" x2="611.29" y2="113.8" stroke="#e6c6d4" stroke-width="2.3" />
<rect x="609.34" y="103.15" width="3.9" height="3.9" fill="#a8285a"/>
<line x1="611.29" y1="82.4" x2="611.29" y2="113.8" stroke="#4f4987" stroke-width="1.2" />
<line x1="609.19" y1="82.4" x2="613.39" y2="82.4" stroke="#a83a64" stroke-width="1.5" />
<line x1="608.79" y1="113.8" x2="613.79" y2="113.8" stroke="#3f4a80" stroke-width="1.4" />
<line x1="633.64" y1="106" x2="633.64" y2="107.8" stroke="#b04e74" stroke-width="1.6" />
<line x1="633.64" y1="77.2" x2="633.64" y2="106" stroke="#e6c6d4" stroke-width="2.3" />
<rect x="631.69" y="97.75" width="3.9" height="3.9" fill="#a8285a"/>
<line x1="633.64" y1="77.2" x2="633.64" y2="106" stroke="#4f4987" stroke-width="1.2" />
<line x1="631.54" y1="77.2" x2="635.74" y2="77.2" stroke="#a83a64" stroke-width="1.5" />
<line x1="631.54" y1="107.8" x2="635.74" y2="107.8" stroke="#a83a64" stroke-width="1.5" />
<line x1="656" y1="66.9" x2="656" y2="94.9" stroke="#e6c6d4" stroke-width="2.3" />
<rect x="654.05" y="82.95" width="3.9" height="3.9" fill="#a8285a"/>
<line x1="656" y1="66.9" x2="656" y2="94.9" stroke="#4f4987" stroke-width="1.2" />
<line x1="653.9" y1="66.9" x2="658.1" y2="66.9" stroke="#a83a64" stroke-width="1.5" />
<line x1="653.9" y1="94.9" x2="658.1" y2="94.9" stroke="#a83a64" stroke-width="1.5" />
<circle cx="499.5" cy="107.5" r="2.6" fill="#2b7e97"/>
<circle cx="521.86" cy="105.2" r="2.6" fill="#2b7e97"/>
<circle cx="544.21" cy="104.4" r="2.6" fill="#2b7e97"/>
<circle cx="566.57" cy="99.7" r="2.6" fill="#2b7e97"/>
<circle cx="588.93" cy="98.1" r="2.6" fill="#2b7e97"/>
<circle cx="611.29" cy="93.5" r="2.6" fill="#2b7e97"/>
<circle cx="633.64" cy="89.6" r="2.6" fill="#2b7e97"/>
<circle cx="656" cy="71.6" r="2.6" fill="#2b7e97"/>
<path d="M553.2,128.5 L553.2,127.3 L579.9,127.3 L579.9,128.5 M566.55,127.3 L566.55,126.1" fill="none" stroke="#444" stroke-width="0.8"/>
<text transform="translate(553.2,132.2) scale(0.86,1)" font-family='"Liberation Serif", serif' font-size="4.5" font-style="italic" fill="#333">p- value= 0.02</text>
<line x1="557" y1="133.4" x2="565.6" y2="133.4" stroke="#e04848" stroke-width="0.6"/>
<path d="M576.3,118.7 L576.3,117.5 L601.8,117.5 L601.8,118.7 M589.05,117.5 L589.05,116.3" fill="none" stroke="#444" stroke-width="0.8"/>
<text transform="translate(576.3,123) scale(0.86,1)" font-family='"Liberation Serif", serif' font-size="4.5" font-style="italic" fill="#333">p- value= 0.067</text>
<line x1="580.1" y1="124.2" x2="588.7" y2="124.2" stroke="#e04848" stroke-width="0.6"/>
<path d="M599.6,127.4 L599.6,126.2 L625.2,126.2 L625.2,127.4 M612.4,126.2 L612.4,125" fill="none" stroke="#444" stroke-width="0.8"/>
<text transform="translate(599.6,131.3) scale(0.86,1)" font-family='"Liberation Serif", serif' font-size="4.5" font-style="italic" fill="#333">p- value= 0.005</text>
<line x1="603.4" y1="132.5" x2="612" y2="132.5" stroke="#e04848" stroke-width="0.6"/>
<path d="M621.2,113.1 L621.2,111.9 L646.4,111.9 L646.4,113.1 M633.8,111.9 L633.8,110.7" fill="none" stroke="#444" stroke-width="0.8"/>
<text transform="translate(621.2,116.4) scale(0.86,1)" font-family='"Liberation Serif", serif' font-size="4.5" font-style="italic" fill="#333">p- value= 0.002</text>
<line x1="625" y1="117.6" x2="633.6" y2="117.6" stroke="#e04848" stroke-width="0.6"/>
<text x="4.8" y="162.2" font-family='"Liberation Sans", sans-serif' font-size="11.3" font-weight="normal" font-style="normal" text-anchor="start" fill="#111" >D</text>
<text transform="translate(8.2,232) rotate(-90)" x="0" y="0" font-family='"Liberation Serif", serif' font-size="9.7" font-weight="bold" text-anchor="middle" fill="#111">Median (IQR) CD4 count</text>
<line x1="29.6" y1="173.3" x2="29.6" y2="291.6" stroke="#3a3a3a" stroke-width="1.1" />
<line x1="29.1" y1="291.1" x2="208.1" y2="291.1" stroke="#3a3a3a" stroke-width="1" />
<line x1="25.1" y1="173.3" x2="29.6" y2="173.3" stroke="#3a3a3a" stroke-width="1" />
<text transform="translate(24,176.04) scale(0.92,1)" font-family='"Liberation Serif", serif' font-size="7.4" font-weight="bold" text-anchor="end" fill="#1a1a1a">800</text>
<line x1="25.1" y1="202.75" x2="29.6" y2="202.75" stroke="#3a3a3a" stroke-width="1" />
<text transform="translate(24,205.49) scale(0.92,1)" font-family='"Liberation Serif", serif' font-size="7.4" font-weight="bold" text-anchor="end" fill="#1a1a1a">600</text>
<line x1="25.1" y1="232.2" x2="29.6" y2="232.2" stroke="#3a3a3a" stroke-width="1" />
<text transform="translate(24,234.94) scale(0.92,1)" font-family='"Liberation Serif", serif' font-size="7.4" font-weight="bold" text-anchor="end" fill="#1a1a1a">400</text>
<line x1="25.1" y1="261.65" x2="29.6" y2="261.65" stroke="#3a3a3a" stroke-width="1" />
<text transform="translate(24,264.39) scale(0.92,1)" font-family='"Liberation Serif", serif' font-size="7.4" font-weight="bold" text-anchor="end" fill="#1a1a1a">200</text>
<line x1="25.1" y1="291.1" x2="29.6" y2="291.1" stroke="#3a3a3a" stroke-width="1" />
<text transform="translate(24,293.84) scale(0.92,1)" font-family='"Liberation Serif", serif' font-size="7.4" font-weight="bold" text-anchor="end" fill="#1a1a1a">0</text>
<line x1="44" y1="291.1" x2="44" y2="295.4" stroke="#3a3a3a" stroke-width="1" />
<text transform="translate(44,303.8) scale(1.0,1)" font-family='"Liberation Serif", serif' font-size="7" font-weight="bold" text-anchor="middle" fill="#1a1a1a">1</text>
<line x1="65.35" y1="291.1" x2="65.35" y2="295.4" stroke="#3a3a3a" stroke-width="1" />
<text transform="translate(65.35,303.8) scale(1.0,1)" font-family='"Liberation Serif", serif' font-size="7" font-weight="bold" text-anchor="middle" fill="#1a1a1a">2</text>
<line x1="86.7" y1="291.1" x2="86.7" y2="295.4" stroke="#3a3a3a" stroke-width="1" />
<text transform="translate(86.7,303.8) scale(1.0,1)" font-family='"Liberation Serif", serif' font-size="7" font-weight="bold" text-anchor="middle" fill="#1a1a1a">3</text>
<line x1="108.05" y1="291.1" x2="108.05" y2="295.4" stroke="#3a3a3a" stroke-width="1" />
<text transform="translate(108.05,303.8) scale(1.0,1)" font-family='"Liberation Serif", serif' font-size="7" font-weight="bold" text-anchor="middle" fill="#1a1a1a">4</text>
<line x1="129.4" y1="291.1" x2="129.4" y2="295.4" stroke="#3a3a3a" stroke-width="1" />
<text transform="translate(129.4,303.8) scale(1.0,1)" font-family='"Liberation Serif", serif' font-size="7" font-weight="bold" text-anchor="middle" fill="#1a1a1a">5</text>
<line x1="150.75" y1="291.1" x2="150.75" y2="295.4" stroke="#3a3a3a" stroke-width="1" />
<text transform="translate(150.75,303.8) scale(1.0,1)" font-family='"Liberation Serif", serif' font-size="7" font-weight="bold" text-anchor="middle" fill="#1a1a1a">6</text>
<line x1="172.1" y1="291.1" x2="172.1" y2="295.4" stroke="#3a3a3a" stroke-width="1" />
<text transform="translate(172.1,303.8) scale(1.0,1)" font-family='"Liberation Serif", serif' font-size="7" font-weight="bold" text-anchor="middle" fill="#1a1a1a">12</text>
<line x1="193.45" y1="291.1" x2="193.45" y2="295.4" stroke="#3a3a3a" stroke-width="1" />
<text transform="translate(193.45,303.8) scale(1.0,1)" font-family='"Liberation Serif", serif' font-size="7" font-weight="bold" text-anchor="middle" fill="#1a1a1a">24</text>
<text x="118.3" y="317" font-family='"Liberation Serif", serif' font-size="9.5" font-weight="bold" font-style="normal" text-anchor="middle" fill="#111" >Months</text>
<line x1="35" y1="175.4" x2="48" y2="175.4" stroke="#94c6d5" stroke-width="1.2" stroke-dasharray="1.2 1.95"/>
<circle cx="41.5" cy="175.4" r="2.5" fill="#2b7e97"/>
<text x="55.7" y="179" font-family='"Liberation Serif", serif' font-size="9.7" font-weight="normal" font-style="normal" text-anchor="start" fill="#404040" >HBcAb+/HBsAb-</text>
<rect x="138.4" y="173.6" width="3.2" height="3.2" fill="#a8285a"/>
<text x="154" y="179" font-family='"Liberation Serif", serif' font-size="9.7" font-weight="normal" font-style="normal" text-anchor="start" fill="#404040" >HBcAb+/HBsAb+</text>
<polyline points="44,249.4 65.35,239.8 86.7,238 108.05,230.3 129.4,231.2 150.75,227.5 172.1,222.7 193.45,211.2" fill="none" stroke="#d990ab" stroke-width="1.2" stroke-dasharray="1.2 1.95"/>
<polyline points="44,262.3 65.35,260.1 86.7,252.2 108.05,246.3 129.4,244.5 150.75,238.7 172.1,236 193.45,222.9" fill="none" stroke="#94c6d5" stroke-width="1.2" stroke-dasharray="1.2 1.95"/>
<line x1="44" y1="251.5" x2="44" y2="285.2" stroke="#86bccd" stroke-width="1.4" />
<line x1="41.4" y1="251.5" x2="46.6" y2="251.5" stroke="#5ea9c1" stroke-width="1.2" />
<line x1="41.4" y1="285.2" x2="46.6" y2="285.2" stroke="#5ea9c1" stroke-width="1.2" />
<line x1="65.35" y1="239.8" x2="65.35" y2="272.3" stroke="#86bccd" stroke-width="1.4" />
<line x1="62.75" y1="239.8" x2="67.95" y2="239.8" stroke="#5ea9c1" stroke-width="1.2" />
<line x1="62.75" y1="272.3" x2="67.95" y2="272.3" stroke="#5ea9c1" stroke-width="1.2" />
<line x1="86.7" y1="227.4" x2="86.7" y2="262.5" stroke="#86bccd" stroke-width="1.4" />
<line x1="84.1" y1="227.4" x2="89.3" y2="227.4" stroke="#5ea9c1" stroke-width="1.2" />
<line x1="84.1" y1="262.5" x2="89.3" y2="262.5" stroke="#5ea9c1" stroke-width="1.2" />
<line x1="108.05" y1="221.5" x2="108.05" y2="267.4" stroke="#86bccd" stroke-width="1.4" />
<line x1="105.45" y1="221.5" x2="110.65" y2="221.5" stroke="#5ea9c1" stroke-width="1.2" />
<line x1="105.45" y1="267.4" x2="110.65" y2="267.4" stroke="#5ea9c1" stroke-width="1.2" />
<line x1="129.4" y1="214.4" x2="129.4" y2="262.3" stroke="#86bccd" stroke-width="1.4" />
<line x1="126.8" y1="214.4" x2="132" y2="214.4" stroke="#5ea9c1" stroke-width="1.2" />
<line x1="126.8" y1="262.3" x2="132" y2="262.3" stroke="#5ea9c1" stroke-width="1.2" />
<line x1="150.75" y1="221.9" x2="150.75" y2="256.3" stroke="#86bccd" stroke-width="1.4" />
<line x1="148.15" y1="221.9" x2="153.35" y2="221.9" stroke="#5ea9c1" stroke-width="1.2" />
<line x1="148.15" y1="256.3" x2="153.35" y2="256.3" stroke="#5ea9c1" stroke-width="1.2" />
<line x1="172.1" y1="222.2" x2="172.1" y2="255.2" stroke="#86bccd" stroke-width="1.4" />
<line x1="169.5" y1="222.2" x2="174.7" y2="222.2" stroke="#5ea9c1" stroke-width="1.2" />
<line x1="169.5" y1="255.2" x2="174.7" y2="255.2" stroke="#5ea9c1" stroke-width="1.2" />
<line x1="193.45" y1="215" x2="193.45" y2="233" stroke="#86bccd" stroke-width="1.4" />
<line x1="190.85" y1="215" x2="196.05" y2="215" stroke="#5ea9c1" stroke-width="1.2" />
<line x1="190.85" y1="233" x2="196.05" y2="233" stroke="#5ea9c1" stroke-width="1.2" />
<line x1="44" y1="220.8" x2="44" y2="251.5" stroke="#b04e74" stroke-width="1.6" />
<line x1="44" y1="251.5" x2="44" y2="268.4" stroke="#e6c6d4" stroke-width="2.3" />
<rect x="42.05" y="247.45" width="3.9" height="3.9" fill="#a8285a"/>
<line x1="44" y1="251.5" x2="44" y2="268.4" stroke="#4f4987" stroke-width="1.2" />
<line x1="41.9" y1="220.8" x2="46.1" y2="220.8" stroke="#a83a64" stroke-width="1.5" />
<line x1="41.9" y1="268.4" x2="46.1" y2="268.4" stroke="#a83a64" stroke-width="1.5" />
<line x1="65.35" y1="227.9" x2="65.35" y2="239.8" stroke="#b04e74" stroke-width="1.6" />
<line x1="65.35" y1="239.8" x2="65.35" y2="260.5" stroke="#e6c6d4" stroke-width="2.3" />
<rect x="63.4" y="237.85" width="3.9" height="3.9" fill="#a8285a"/>
<line x1="65.35" y1="239.8" x2="65.35" y2="260.5" stroke="#4f4987" stroke-width="1.2" />
<line x1="63.25" y1="227.9" x2="67.45" y2="227.9" stroke="#a83a64" stroke-width="1.5" />
<line x1="63.25" y1="260.5" x2="67.45" y2="260.5" stroke="#a83a64" stroke-width="1.5" />
<line x1="86.7" y1="221.1" x2="86.7" y2="227.4" stroke="#b04e74" stroke-width="1.6" />
<line x1="86.7" y1="227.4" x2="86.7" y2="259.5" stroke="#e6c6d4" stroke-width="2.3" />
<rect x="84.75" y="236.05" width="3.9" height="3.9" fill="#a8285a"/>
<line x1="86.7" y1="227.4" x2="86.7" y2="259.5" stroke="#4f4987" stroke-width="1.2" />
<line x1="84.6" y1="221.1" x2="88.8" y2="221.1" stroke="#a83a64" stroke-width="1.5" />
<line x1="84.6" y1="259.5" x2="88.8" y2="259.5" stroke="#a83a64" stroke-width="1.5" />
<line x1="108.05" y1="211.4" x2="108.05" y2="221.5" stroke="#b04e74" stroke-width="1.6" />
<line x1="108.05" y1="221.5" x2="108.05" y2="254.4" stroke="#e6c6d4" stroke-width="2.3" />
<rect x="106.1" y="228.35" width="3.9" height="3.9" fill="#a8285a"/>
<line x1="108.05" y1="221.5" x2="108.05" y2="254.4" stroke="#4f4987" stroke-width="1.2" />
<line x1="105.95" y1="211.4" x2="110.15" y2="211.4" stroke="#a83a64" stroke-width="1.5" />
<line x1="105.95" y1="254.4" x2="110.15" y2="254.4" stroke="#a83a64" stroke-width="1.5" />
<line x1="129.4" y1="221.9" x2="129.4" y2="245" stroke="#e6c6d4" stroke-width="2.3" />
<rect x="127.45" y="229.25" width="3.9" height="3.9" fill="#a8285a"/>
<line x1="129.4" y1="221.9" x2="129.4" y2="245" stroke="#4f4987" stroke-width="1.2" />
<line x1="127.3" y1="221.9" x2="131.5" y2="221.9" stroke="#a83a64" stroke-width="1.5" />
<line x1="127.3" y1="245" x2="131.5" y2="245" stroke="#a83a64" stroke-width="1.5" />
<line x1="150.75" y1="212.8" x2="150.75" y2="221.9" stroke="#b04e74" stroke-width="1.6" />
<line x1="150.75" y1="221.9" x2="150.75" y2="248.6" stroke="#e6c6d4" stroke-width="2.3" />
<rect x="148.8" y="225.55" width="3.9" height="3.9" fill="#a8285a"/>
<line x1="150.75" y1="221.9" x2="150.75" y2="248.6" stroke="#4f4987" stroke-width="1.2" />
<line x1="148.65" y1="212.8" x2="152.85" y2="212.8" stroke="#a83a64" stroke-width="1.5" />
<line x1="148.65" y1="248.6" x2="152.85" y2="248.6" stroke="#a83a64" stroke-width="1.5" />
<line x1="172.1" y1="202.6" x2="172.1" y2="222.2" stroke="#b04e74" stroke-width="1.6" />
<line x1="172.1" y1="222.2" x2="172.1" y2="240.5" stroke="#e6c6d4" stroke-width="2.3" />
<rect x="170.15" y="220.75" width="3.9" height="3.9" fill="#a8285a"/>
<line x1="172.1" y1="222.2" x2="172.1" y2="240.5" stroke="#4f4987" stroke-width="1.2" />
<line x1="170" y1="202.6" x2="174.2" y2="202.6" stroke="#a83a64" stroke-width="1.5" />
<line x1="170" y1="240.5" x2="174.2" y2="240.5" stroke="#a83a64" stroke-width="1.5" />
<line x1="193.45" y1="197.9" x2="193.45" y2="215" stroke="#b04e74" stroke-width="1.6" />
<line x1="193.45" y1="215" x2="193.45" y2="224.9" stroke="#e6c6d4" stroke-width="2.3" />
<rect x="191.5" y="209.25" width="3.9" height="3.9" fill="#a8285a"/>
<line x1="193.45" y1="215" x2="193.45" y2="224.9" stroke="#4f4987" stroke-width="1.2" />
<line x1="191.35" y1="197.9" x2="195.55" y2="197.9" stroke="#a83a64" stroke-width="1.5" />
<line x1="191.35" y1="224.9" x2="195.55" y2="224.9" stroke="#a83a64" stroke-width="1.5" />
<circle cx="44" cy="262.3" r="2.6" fill="#2b7e97"/>
<circle cx="65.35" cy="260.1" r="2.6" fill="#2b7e97"/>
<circle cx="86.7" cy="252.2" r="2.6" fill="#2b7e97"/>
<circle cx="108.05" cy="246.3" r="2.6" fill="#2b7e97"/>
<circle cx="129.4" cy="244.5" r="2.6" fill="#2b7e97"/>
<circle cx="150.75" cy="238.7" r="2.6" fill="#2b7e97"/>
<circle cx="172.1" cy="236" r="2.6" fill="#2b7e97"/>
<circle cx="193.45" cy="222.9" r="2.6" fill="#2b7e97"/>
<path d="M31.8,211 L31.8,212.2 L57.7,212.2 L57.7,211 M44.75,212.2 L44.75,213.4" fill="none" stroke="#444" stroke-width="0.8"/>
<text transform="translate(31.8,207.4) scale(0.86,1)" font-family='"Liberation Serif", serif' font-size="4.5" font-style="italic" fill="#333">p- value= 0.02</text>
<line x1="35.6" y1="208.6" x2="44.2" y2="208.6" stroke="#e04848" stroke-width="0.6"/>
<path d="M52.3,221.3 L52.3,222.5 L77.8,222.5 L77.8,221.3 M65.05,222.5 L65.05,223.7" fill="none" stroke="#444" stroke-width="0.8"/>
<text transform="translate(52.3,218.9) scale(0.86,1)" font-family='"Liberation Serif", serif' font-size="4.5" font-style="italic" fill="#333">p- value= 0.04</text>
<line x1="56.1" y1="220.1" x2="64.7" y2="220.1" stroke="#e04848" stroke-width="0.6"/>
<text x="236.6" y="162.3" font-family='"Liberation Sans", sans-serif' font-size="11.3" font-weight="normal" font-style="normal" text-anchor="start" fill="#111" >E</text>
<text transform="translate(235.6,232.9) rotate(-90)" x="0" y="0" font-family='"Liberation Serif", serif' font-size="9.7" font-weight="bold" text-anchor="middle" fill="#111">Median (IQR) CD8 count</text>
<line x1="260.6" y1="174.2" x2="260.6" y2="290.9" stroke="#3a3a3a" stroke-width="1.1" />
<line x1="260.1" y1="290.4" x2="435.5" y2="290.4" stroke="#3a3a3a" stroke-width="1" />
<line x1="256.1" y1="174.2" x2="260.6" y2="174.2" stroke="#3a3a3a" stroke-width="1" />
<text transform="translate(255,176.94) scale(0.92,1)" font-family='"Liberation Serif", serif' font-size="7.4" font-weight="bold" text-anchor="end" fill="#1a1a1a">2000</text>
<line x1="256.1" y1="203.25" x2="260.6" y2="203.25" stroke="#3a3a3a" stroke-width="1" />
<text transform="translate(255,205.99) scale(0.92,1)" font-family='"Liberation Serif", serif' font-size="7.4" font-weight="bold" text-anchor="end" fill="#1a1a1a">1500</text>
<line x1="256.1" y1="232.3" x2="260.6" y2="232.3" stroke="#3a3a3a" stroke-width="1" />
<text transform="translate(255,235.04) scale(0.92,1)" font-family='"Liberation Serif", serif' font-size="7.4" font-weight="bold" text-anchor="end" fill="#1a1a1a">1000</text>
<line x1="256.1" y1="261.35" x2="260.6" y2="261.35" stroke="#3a3a3a" stroke-width="1" />
<text transform="translate(255,264.09) scale(0.92,1)" font-family='"Liberation Serif", serif' font-size="7.4" font-weight="bold" text-anchor="end" fill="#1a1a1a">500</text>
<line x1="256.1" y1="290.4" x2="260.6" y2="290.4" stroke="#3a3a3a" stroke-width="1" />
<text transform="translate(255,293.14) scale(0.92,1)" font-family='"Liberation Serif", serif' font-size="7.4" font-weight="bold" text-anchor="end" fill="#1a1a1a">0</text>
<line x1="274.1" y1="290.4" x2="274.1" y2="294.7" stroke="#3a3a3a" stroke-width="1" />
<text transform="translate(274.1,303.2) scale(1.0,1)" font-family='"Liberation Serif", serif' font-size="7" font-weight="bold" text-anchor="middle" fill="#1a1a1a">1</text>
<line x1="295.09" y1="290.4" x2="295.09" y2="294.7" stroke="#3a3a3a" stroke-width="1" />
<text transform="translate(295.09,303.2) scale(1.0,1)" font-family='"Liberation Serif", serif' font-size="7" font-weight="bold" text-anchor="middle" fill="#1a1a1a">2</text>
<line x1="316.07" y1="290.4" x2="316.07" y2="294.7" stroke="#3a3a3a" stroke-width="1" />
<text transform="translate(316.07,303.2) scale(1.0,1)" font-family='"Liberation Serif", serif' font-size="7" font-weight="bold" text-anchor="middle" fill="#1a1a1a">3</text>
<line x1="337.06" y1="290.4" x2="337.06" y2="294.7" stroke="#3a3a3a" stroke-width="1" />
<text transform="translate(337.06,303.2) scale(1.0,1)" font-family='"Liberation Serif", serif' font-size="7" font-weight="bold" text-anchor="middle" fill="#1a1a1a">4</text>
<line x1="358.04" y1="290.4" x2="358.04" y2="294.7" stroke="#3a3a3a" stroke-width="1" />
<text transform="translate(358.04,303.2) scale(1.0,1)" font-family='"Liberation Serif", serif' font-size="7" font-weight="bold" text-anchor="middle" fill="#1a1a1a">5</text>
<line x1="379.03" y1="290.4" x2="379.03" y2="294.7" stroke="#3a3a3a" stroke-width="1" />
<text transform="translate(379.03,303.2) scale(1.0,1)" font-family='"Liberation Serif", serif' font-size="7" font-weight="bold" text-anchor="middle" fill="#1a1a1a">6</text>
<line x1="400.01" y1="290.4" x2="400.01" y2="294.7" stroke="#3a3a3a" stroke-width="1" />
<text transform="translate(400.01,303.2) scale(1.0,1)" font-family='"Liberation Serif", serif' font-size="7" font-weight="bold" text-anchor="middle" fill="#1a1a1a">12</text>
<line x1="421" y1="290.4" x2="421" y2="294.7" stroke="#3a3a3a" stroke-width="1" />
<text transform="translate(421,303.2) scale(1.0,1)" font-family='"Liberation Serif", serif' font-size="7" font-weight="bold" text-anchor="middle" fill="#1a1a1a">24</text>
<text x="347.4" y="315.8" font-family='"Liberation Serif", serif' font-size="9.5" font-weight="bold" font-style="normal" text-anchor="middle" fill="#111" >Months</text>
<line x1="265.8" y1="176.7" x2="278.8" y2="176.7" stroke="#94c6d5" stroke-width="1.2" stroke-dasharray="1.2 1.95"/>
<circle cx="272.3" cy="176.7" r="2.5" fill="#2b7e97"/>
<text x="285.5" y="180" font-family='"Liberation Serif", serif' font-size="9.7" font-weight="normal" font-style="normal" text-anchor="start" fill="#404040" >HBcAb+/HBsAb-</text>
<rect x="366.8" y="175" width="3.2" height="3.2" fill="#a8285a"/>
<text x="382" y="180" font-family='"Liberation Serif", serif' font-size="9.7" font-weight="normal" font-style="normal" text-anchor="start" fill="#404040" >HBcAb+/HBsAb+</text>
<polyline points="274.1,246.8 295.09,241.6 316.07,241.5 337.06,239.4 358.04,243 379.03,242.5 400.01,244.1 421,246.6" fill="none" stroke="#d990ab" stroke-width="1.2" stroke-dasharray="1.2 1.95"/>
<polyline points="274.1,257.3 295.09,245.6 316.07,240.9 337.06,241.1 358.04,230.8 379.03,236 400.01,238.8 421,228.4" fill="none" stroke="#94c6d5" stroke-width="1.2" stroke-dasharray="1.2 1.95"/>
<line x1="274.1" y1="233.2" x2="274.1" y2="272" stroke="#86bccd" stroke-width="1.4" />
<line x1="271.5" y1="233.2" x2="276.7" y2="233.2" stroke="#5ea9c1" stroke-width="1.2" />
<line x1="271.5" y1="272" x2="276.7" y2="272" stroke="#5ea9c1" stroke-width="1.2" />
<line x1="295.09" y1="228.3" x2="295.09" y2="265.3" stroke="#86bccd" stroke-width="1.4" />
<line x1="292.49" y1="228.3" x2="297.69" y2="228.3" stroke="#5ea9c1" stroke-width="1.2" />
<line x1="292.49" y1="265.3" x2="297.69" y2="265.3" stroke="#5ea9c1" stroke-width="1.2" />
<line x1="316.07" y1="212.5" x2="316.07" y2="252.3" stroke="#86bccd" stroke-width="1.4" />
<line x1="313.47" y1="212.5" x2="318.67" y2="212.5" stroke="#5ea9c1" stroke-width="1.2" />
<line x1="313.47" y1="252.3" x2="318.67" y2="252.3" stroke="#5ea9c1" stroke-width="1.2" />
<line x1="337.06" y1="228.3" x2="337.06" y2="253.3" stroke="#86bccd" stroke-width="1.4" />
<line x1="334.46" y1="228.3" x2="339.66" y2="228.3" stroke="#5ea9c1" stroke-width="1.2" />
<line x1="334.46" y1="253.3" x2="339.66" y2="253.3" stroke="#5ea9c1" stroke-width="1.2" />
<line x1="358.04" y1="214.2" x2="358.04" y2="253" stroke="#86bccd" stroke-width="1.4" />
<line x1="355.44" y1="214.2" x2="360.64" y2="214.2" stroke="#5ea9c1" stroke-width="1.2" />
<line x1="355.44" y1="253" x2="360.64" y2="253" stroke="#5ea9c1" stroke-width="1.2" />
<line x1="379.03" y1="223.4" x2="379.03" y2="250.1" stroke="#86bccd" stroke-width="1.4" />
<line x1="376.43" y1="223.4" x2="381.63" y2="223.4" stroke="#5ea9c1" stroke-width="1.2" />
<line x1="376.43" y1="250.1" x2="381.63" y2="250.1" stroke="#5ea9c1" stroke-width="1.2" />
<line x1="400.01" y1="225" x2="400.01" y2="250.4" stroke="#86bccd" stroke-width="1.4" />
<line x1="397.41" y1="225" x2="402.61" y2="225" stroke="#5ea9c1" stroke-width="1.2" />
<line x1="397.41" y1="250.4" x2="402.61" y2="250.4" stroke="#5ea9c1" stroke-width="1.2" />
<line x1="421" y1="223.4" x2="421" y2="250.1" stroke="#86bccd" stroke-width="1.4" />
<line x1="418.4" y1="223.4" x2="423.6" y2="223.4" stroke="#5ea9c1" stroke-width="1.2" />
<line x1="418.4" y1="250.1" x2="423.6" y2="250.1" stroke="#5ea9c1" stroke-width="1.2" />
<line x1="274.1" y1="230.2" x2="274.1" y2="233.2" stroke="#b04e74" stroke-width="1.6" />
<line x1="274.1" y1="233.2" x2="274.1" y2="261.4" stroke="#e6c6d4" stroke-width="2.3" />
<rect x="272.15" y="244.85" width="3.9" height="3.9" fill="#a8285a"/>
<line x1="274.1" y1="233.2" x2="274.1" y2="261.4" stroke="#4f4987" stroke-width="1.2" />
<line x1="272" y1="230.2" x2="276.2" y2="230.2" stroke="#a83a64" stroke-width="1.5" />
<line x1="272" y1="261.4" x2="276.2" y2="261.4" stroke="#a83a64" stroke-width="1.5" />
<line x1="295.09" y1="223.9" x2="295.09" y2="228.3" stroke="#b04e74" stroke-width="1.6" />
<line x1="295.09" y1="228.3" x2="295.09" y2="253.6" stroke="#e6c6d4" stroke-width="2.3" />
<rect x="293.14" y="239.65" width="3.9" height="3.9" fill="#a8285a"/>
<line x1="295.09" y1="228.3" x2="295.09" y2="253.6" stroke="#4f4987" stroke-width="1.2" />
<line x1="292.99" y1="223.9" x2="297.19" y2="223.9" stroke="#a83a64" stroke-width="1.5" />
<line x1="292.99" y1="253.6" x2="297.19" y2="253.6" stroke="#a83a64" stroke-width="1.5" />
<line x1="316.07" y1="252.3" x2="316.07" y2="255.1" stroke="#b04e74" stroke-width="1.6" />
<line x1="316.07" y1="229.7" x2="316.07" y2="252.3" stroke="#e6c6d4" stroke-width="2.3" />
<rect x="314.12" y="239.55" width="3.9" height="3.9" fill="#a8285a"/>
<line x1="316.07" y1="229.7" x2="316.07" y2="252.3" stroke="#4f4987" stroke-width="1.2" />
<line x1="313.97" y1="229.7" x2="318.17" y2="229.7" stroke="#a83a64" stroke-width="1.5" />
<line x1="313.97" y1="255.1" x2="318.17" y2="255.1" stroke="#a83a64" stroke-width="1.5" />
<line x1="337.06" y1="215.2" x2="337.06" y2="228.3" stroke="#b04e74" stroke-width="1.6" />
<line x1="337.06" y1="228.3" x2="337.06" y2="249.6" stroke="#e6c6d4" stroke-width="2.3" />
<rect x="335.11" y="237.45" width="3.9" height="3.9" fill="#a8285a"/>
<line x1="337.06" y1="228.3" x2="337.06" y2="249.6" stroke="#4f4987" stroke-width="1.2" />
<line x1="334.96" y1="215.2" x2="339.16" y2="215.2" stroke="#a83a64" stroke-width="1.5" />
<line x1="334.96" y1="249.6" x2="339.16" y2="249.6" stroke="#a83a64" stroke-width="1.5" />
<line x1="358.04" y1="229.7" x2="358.04" y2="253" stroke="#e6c6d4" stroke-width="2.3" />
<rect x="356.09" y="241.05" width="3.9" height="3.9" fill="#a8285a"/>
<line x1="358.04" y1="229.7" x2="358.04" y2="253" stroke="#4f4987" stroke-width="1.2" />
<line x1="355.94" y1="229.7" x2="360.14" y2="229.7" stroke="#a83a64" stroke-width="1.5" />
<line x1="355.54" y1="253" x2="360.54" y2="253" stroke="#3f4a80" stroke-width="1.4" />
<line x1="379.03" y1="250.1" x2="379.03" y2="252.1" stroke="#b04e74" stroke-width="1.6" />
<line x1="379.03" y1="230" x2="379.03" y2="250.1" stroke="#e6c6d4" stroke-width="2.3" />
<rect x="377.08" y="240.55" width="3.9" height="3.9" fill="#a8285a"/>
<line x1="379.03" y1="230" x2="379.03" y2="250.1" stroke="#4f4987" stroke-width="1.2" />
<line x1="376.93" y1="230" x2="381.13" y2="230" stroke="#a83a64" stroke-width="1.5" />
<line x1="376.93" y1="252.1" x2="381.13" y2="252.1" stroke="#a83a64" stroke-width="1.5" />
<line x1="400.01" y1="250.4" x2="400.01" y2="254.3" stroke="#b04e74" stroke-width="1.6" />
<line x1="400.01" y1="226" x2="400.01" y2="250.4" stroke="#e6c6d4" stroke-width="2.3" />
<rect x="398.06" y="242.15" width="3.9" height="3.9" fill="#a8285a"/>
<line x1="400.01" y1="226" x2="400.01" y2="250.4" stroke="#4f4987" stroke-width="1.2" />
<line x1="397.91" y1="226" x2="402.11" y2="226" stroke="#a83a64" stroke-width="1.5" />
<line x1="397.91" y1="254.3" x2="402.11" y2="254.3" stroke="#a83a64" stroke-width="1.5" />
<line x1="421" y1="250.1" x2="421" y2="258.7" stroke="#b04e74" stroke-width="1.6" />
<line x1="421" y1="231.2" x2="421" y2="250.1" stroke="#e6c6d4" stroke-width="2.3" />
<rect x="419.05" y="244.65" width="3.9" height="3.9" fill="#a8285a"/>
<line x1="421" y1="231.2" x2="421" y2="250.1" stroke="#4f4987" stroke-width="1.2" />
<line x1="418.9" y1="231.2" x2="423.1" y2="231.2" stroke="#a83a64" stroke-width="1.5" />
<line x1="418.9" y1="258.7" x2="423.1" y2="258.7" stroke="#a83a64" stroke-width="1.5" />
<circle cx="274.1" cy="257.3" r="2.6" fill="#2b7e97"/>
<circle cx="295.09" cy="245.6" r="2.6" fill="#2b7e97"/>
<circle cx="316.07" cy="240.9" r="2.6" fill="#2b7e97"/>
<circle cx="337.06" cy="241.1" r="2.6" fill="#2b7e97"/>
<circle cx="358.04" cy="230.8" r="2.6" fill="#2b7e97"/>
<circle cx="379.03" cy="236" r="2.6" fill="#2b7e97"/>
<circle cx="400.01" cy="238.8" r="2.6" fill="#2b7e97"/>
<circle cx="421" cy="228.4" r="2.6" fill="#2b7e97"/>
<text x="464.2" y="161.8" font-family='"Liberation Sans", sans-serif' font-size="11.3" font-weight="normal" font-style="normal" text-anchor="start" fill="#111" >F</text>
<text transform="translate(468.8,232.7) rotate(-90)" x="0" y="0" font-family='"Liberation Serif", serif' font-size="9.7" font-weight="bold" text-anchor="middle" fill="#111">Median (IQR) CD4/CD8 ratio</text>
<line x1="488.6" y1="173.8" x2="488.6" y2="290.9" stroke="#3a3a3a" stroke-width="1.1" />
<line x1="488.1" y1="290.4" x2="664.5" y2="290.4" stroke="#3a3a3a" stroke-width="1" />
<line x1="484.1" y1="173.8" x2="488.6" y2="173.8" stroke="#3a3a3a" stroke-width="1" />
<text transform="translate(483,176.54) scale(0.92,1)" font-family='"Liberation Serif", serif' font-size="7.4" font-weight="bold" text-anchor="end" fill="#1a1a1a">1.5</text>
<line x1="484.1" y1="212.5" x2="488.6" y2="212.5" stroke="#3a3a3a" stroke-width="1" />
<text transform="translate(483,215.24) scale(0.92,1)" font-family='"Liberation Serif", serif' font-size="7.4" font-weight="bold" text-anchor="end" fill="#1a1a1a">1.0</text>
<line x1="484.1" y1="251.2" x2="488.6" y2="251.2" stroke="#3a3a3a" stroke-width="1" />
<text transform="translate(483,253.94) scale(0.92,1)" font-family='"Liberation Serif", serif' font-size="7.4" font-weight="bold" text-anchor="end" fill="#1a1a1a">0.5</text>
<line x1="484.1" y1="290.4" x2="488.6" y2="290.4" stroke="#3a3a3a" stroke-width="1" />
<text transform="translate(483,293.14) scale(0.92,1)" font-family='"Liberation Serif", serif' font-size="7.4" font-weight="bold" text-anchor="end" fill="#1a1a1a">0.0</text>
<line x1="502.3" y1="290.4" x2="502.3" y2="294.7" stroke="#3a3a3a" stroke-width="1" />
<text transform="translate(502.3,303.3) scale(0.92,1)" font-family='"Liberation Serif", serif' font-size="7.8" font-weight="bold" text-anchor="middle" fill="#1a1a1a">1</text>
<line x1="523.43" y1="290.4" x2="523.43" y2="294.7" stroke="#3a3a3a" stroke-width="1" />
<text transform="translate(523.43,303.3) scale(0.92,1)" font-family='"Liberation Serif", serif' font-size="7.8" font-weight="bold" text-anchor="middle" fill="#1a1a1a">2</text>
<line x1="544.56" y1="290.4" x2="544.56" y2="294.7" stroke="#3a3a3a" stroke-width="1" />
<text transform="translate(544.56,303.3) scale(0.92,1)" font-family='"Liberation Serif", serif' font-size="7.8" font-weight="bold" text-anchor="middle" fill="#1a1a1a">3</text>
<line x1="565.69" y1="290.4" x2="565.69" y2="294.7" stroke="#3a3a3a" stroke-width="1" />
<text transform="translate(565.69,303.3) scale(0.92,1)" font-family='"Liberation Serif", serif' font-size="7.8" font-weight="bold" text-anchor="middle" fill="#1a1a1a">4</text>
<line x1="586.81" y1="290.4" x2="586.81" y2="294.7" stroke="#3a3a3a" stroke-width="1" />
<text transform="translate(586.81,303.3) scale(0.92,1)" font-family='"Liberation Serif", serif' font-size="7.8" font-weight="bold" text-anchor="middle" fill="#1a1a1a">5</text>
<line x1="607.94" y1="290.4" x2="607.94" y2="294.7" stroke="#3a3a3a" stroke-width="1" />
<text transform="translate(607.94,303.3) scale(0.92,1)" font-family='"Liberation Serif", serif' font-size="7.8" font-weight="bold" text-anchor="middle" fill="#1a1a1a">6</text>
<line x1="629.07" y1="290.4" x2="629.07" y2="294.7" stroke="#3a3a3a" stroke-width="1" />
<text transform="translate(629.07,303.3) scale(0.92,1)" font-family='"Liberation Serif", serif' font-size="7.8" font-weight="bold" text-anchor="middle" fill="#1a1a1a">12</text>
<line x1="650.2" y1="290.4" x2="650.2" y2="294.7" stroke="#3a3a3a" stroke-width="1" />
<text transform="translate(650.2,303.3) scale(0.92,1)" font-family='"Liberation Serif", serif' font-size="7.8" font-weight="bold" text-anchor="middle" fill="#1a1a1a">24</text>
<text x="575.8" y="316.8" font-family='"Liberation Serif", serif' font-size="9.5" font-weight="bold" font-style="normal" text-anchor="middle" fill="#111" >Months</text>
<line x1="493.2" y1="175.8" x2="506.2" y2="175.8" stroke="#94c6d5" stroke-width="1.2" stroke-dasharray="1.2 1.95"/>
<circle cx="499.7" cy="175.8" r="2.5" fill="#2b7e97"/>
<text x="513.9" y="179.4" font-family='"Liberation Serif", serif' font-size="9.7" font-weight="normal" font-style="normal" text-anchor="start" fill="#404040" >HBcAb+/HBsAb-</text>
<rect x="595.8" y="174.4" width="3.2" height="3.2" fill="#a8285a"/>
<text x="611.1" y="179.4" font-family='"Liberation Serif", serif' font-size="9.7" font-weight="normal" font-style="normal" text-anchor="start" fill="#404040" >HBcAb+/HBsAb+</text>
<polyline points="502.3,264.6 523.43,265 544.56,263 565.69,260.2 586.81,256.7 607.94,252 629.07,244.2 650.2,236.8" fill="none" stroke="#d990ab" stroke-width="1.2" stroke-dasharray="1.2 1.95"/>
<polyline points="502.3,269.3 523.43,265.7 544.56,263.3 565.69,261.7 586.81,260.1 607.94,261.5 629.07,253.2 650.2,243.8" fill="none" stroke="#94c6d5" stroke-width="1.2" stroke-dasharray="1.2 1.95"/>
<line x1="502.3" y1="252.3" x2="502.3" y2="281.4" stroke="#86bccd" stroke-width="1.4" />
<line x1="499.7" y1="252.3" x2="504.9" y2="252.3" stroke="#5ea9c1" stroke-width="1.2" />
<line x1="499.7" y1="281.4" x2="504.9" y2="281.4" stroke="#5ea9c1" stroke-width="1.2" />
<line x1="523.43" y1="248.4" x2="523.43" y2="274" stroke="#86bccd" stroke-width="1.4" />
<line x1="520.83" y1="248.4" x2="526.03" y2="248.4" stroke="#5ea9c1" stroke-width="1.2" />
<line x1="520.83" y1="274" x2="526.03" y2="274" stroke="#5ea9c1" stroke-width="1.2" />
<line x1="544.56" y1="246.8" x2="544.56" y2="276.4" stroke="#86bccd" stroke-width="1.4" />
<line x1="541.96" y1="246.8" x2="547.16" y2="246.8" stroke="#5ea9c1" stroke-width="1.2" />
<line x1="541.96" y1="276.4" x2="547.16" y2="276.4" stroke="#5ea9c1" stroke-width="1.2" />
<line x1="565.69" y1="241" x2="565.69" y2="269.9" stroke="#86bccd" stroke-width="1.4" />
<line x1="563.09" y1="241" x2="568.29" y2="241" stroke="#5ea9c1" stroke-width="1.2" />
<line x1="563.09" y1="269.9" x2="568.29" y2="269.9" stroke="#5ea9c1" stroke-width="1.2" />
<line x1="586.81" y1="241.4" x2="586.81" y2="268.5" stroke="#86bccd" stroke-width="1.4" />
<line x1="584.21" y1="241.4" x2="589.41" y2="241.4" stroke="#5ea9c1" stroke-width="1.2" />
<line x1="584.21" y1="268.5" x2="589.41" y2="268.5" stroke="#5ea9c1" stroke-width="1.2" />
<line x1="607.94" y1="247.4" x2="607.94" y2="268.6" stroke="#86bccd" stroke-width="1.4" />
<line x1="605.34" y1="247.4" x2="610.54" y2="247.4" stroke="#5ea9c1" stroke-width="1.2" />
<line x1="605.34" y1="268.6" x2="610.54" y2="268.6" stroke="#5ea9c1" stroke-width="1.2" />
<line x1="629.07" y1="246.2" x2="629.07" y2="261.2" stroke="#86bccd" stroke-width="1.4" />
<line x1="626.47" y1="246.2" x2="631.67" y2="246.2" stroke="#5ea9c1" stroke-width="1.2" />
<line x1="626.47" y1="261.2" x2="631.67" y2="261.2" stroke="#5ea9c1" stroke-width="1.2" />
<line x1="650.2" y1="232.6" x2="650.2" y2="254.4" stroke="#86bccd" stroke-width="1.4" />
<line x1="647.6" y1="232.6" x2="652.8" y2="232.6" stroke="#5ea9c1" stroke-width="1.2" />
<line x1="647.6" y1="254.4" x2="652.8" y2="254.4" stroke="#5ea9c1" stroke-width="1.2" />
<line x1="502.3" y1="243.6" x2="502.3" y2="252.3" stroke="#b04e74" stroke-width="1.6" />
<line x1="502.3" y1="252.3" x2="502.3" y2="274.6" stroke="#e6c6d4" stroke-width="2.3" />
<rect x="500.35" y="262.65" width="3.9" height="3.9" fill="#a8285a"/>
<line x1="502.3" y1="252.3" x2="502.3" y2="274.6" stroke="#4f4987" stroke-width="1.2" />
<line x1="500.2" y1="243.6" x2="504.4" y2="243.6" stroke="#a83a64" stroke-width="1.5" />
<line x1="500.2" y1="274.6" x2="504.4" y2="274.6" stroke="#a83a64" stroke-width="1.5" />
<line x1="523.43" y1="240.8" x2="523.43" y2="248.4" stroke="#b04e74" stroke-width="1.6" />
<line x1="523.43" y1="248.4" x2="523.43" y2="272.7" stroke="#e6c6d4" stroke-width="2.3" />
<rect x="521.48" y="263.05" width="3.9" height="3.9" fill="#a8285a"/>
<line x1="523.43" y1="248.4" x2="523.43" y2="272.7" stroke="#4f4987" stroke-width="1.2" />
<line x1="521.33" y1="240.8" x2="525.53" y2="240.8" stroke="#a83a64" stroke-width="1.5" />
<line x1="521.33" y1="272.7" x2="525.53" y2="272.7" stroke="#a83a64" stroke-width="1.5" />
<line x1="544.56" y1="242.1" x2="544.56" y2="246.8" stroke="#b04e74" stroke-width="1.6" />
<line x1="544.56" y1="246.8" x2="544.56" y2="272" stroke="#e6c6d4" stroke-width="2.3" />
<rect x="542.61" y="261.05" width="3.9" height="3.9" fill="#a8285a"/>
<line x1="544.56" y1="246.8" x2="544.56" y2="272" stroke="#4f4987" stroke-width="1.2" />
<line x1="542.46" y1="242.1" x2="546.66" y2="242.1" stroke="#a83a64" stroke-width="1.5" />
<line x1="542.46" y1="272" x2="546.66" y2="272" stroke="#a83a64" stroke-width="1.5" />
<line x1="565.69" y1="241" x2="565.69" y2="269.9" stroke="#e6c6d4" stroke-width="2.3" />
<rect x="563.74" y="258.25" width="3.9" height="3.9" fill="#a8285a"/>
<line x1="565.69" y1="241" x2="565.69" y2="269.9" stroke="#4f4987" stroke-width="1.2" />
<line x1="563.19" y1="241" x2="568.19" y2="241" stroke="#3f4a80" stroke-width="1.4" />
<line x1="563.19" y1="269.9" x2="568.19" y2="269.9" stroke="#3f4a80" stroke-width="1.4" />
<line x1="586.81" y1="237.7" x2="586.81" y2="241.4" stroke="#b04e74" stroke-width="1.6" />
<line x1="586.81" y1="241.4" x2="586.81" y2="265.2" stroke="#e6c6d4" stroke-width="2.3" />
<rect x="584.86" y="254.75" width="3.9" height="3.9" fill="#a8285a"/>
<line x1="586.81" y1="241.4" x2="586.81" y2="265.2" stroke="#4f4987" stroke-width="1.2" />
<line x1="584.71" y1="237.7" x2="588.91" y2="237.7" stroke="#a83a64" stroke-width="1.5" />
<line x1="584.71" y1="265.2" x2="588.91" y2="265.2" stroke="#a83a64" stroke-width="1.5" />
<line x1="607.94" y1="234.4" x2="607.94" y2="247.4" stroke="#b04e74" stroke-width="1.6" />
<line x1="607.94" y1="247.4" x2="607.94" y2="264.8" stroke="#e6c6d4" stroke-width="2.3" />
<rect x="605.99" y="250.05" width="3.9" height="3.9" fill="#a8285a"/>
<line x1="607.94" y1="247.4" x2="607.94" y2="264.8" stroke="#4f4987" stroke-width="1.2" />
<line x1="605.84" y1="234.4" x2="610.04" y2="234.4" stroke="#a83a64" stroke-width="1.5" />
<line x1="605.84" y1="264.8" x2="610.04" y2="264.8" stroke="#a83a64" stroke-width="1.5" />
<line x1="629.07" y1="215.5" x2="629.07" y2="246.2" stroke="#b04e74" stroke-width="1.6" />
<line x1="629.07" y1="246.2" x2="629.07" y2="260.4" stroke="#e6c6d4" stroke-width="2.3" />
<rect x="627.12" y="242.25" width="3.9" height="3.9" fill="#a8285a"/>
<line x1="629.07" y1="246.2" x2="629.07" y2="260.4" stroke="#4f4987" stroke-width="1.2" />
<line x1="626.97" y1="215.5" x2="631.17" y2="215.5" stroke="#a83a64" stroke-width="1.5" />
<line x1="626.57" y1="260.4" x2="631.57" y2="260.4" stroke="#3f4a80" stroke-width="1.4" />
<line x1="650.2" y1="211.8" x2="650.2" y2="232.6" stroke="#b04e74" stroke-width="1.6" />
<line x1="650.2" y1="232.6" x2="650.2" y2="241" stroke="#e6c6d4" stroke-width="2.3" />
<rect x="648.25" y="234.85" width="3.9" height="3.9" fill="#a8285a"/>
<line x1="650.2" y1="232.6" x2="650.2" y2="241" stroke="#4f4987" stroke-width="1.2" />
<line x1="648.1" y1="211.8" x2="652.3" y2="211.8" stroke="#a83a64" stroke-width="1.5" />
<line x1="648.1" y1="241" x2="652.3" y2="241" stroke="#a83a64" stroke-width="1.5" />
<circle cx="502.3" cy="269.3" r="2.6" fill="#2b7e97"/>
<circle cx="523.43" cy="265.7" r="2.6" fill="#2b7e97"/>
<circle cx="544.56" cy="263.3" r="2.6" fill="#2b7e97"/>
<circle cx="565.69" cy="261.7" r="2.6" fill="#2b7e97"/>
<circle cx="586.81" cy="260.1" r="2.6" fill="#2b7e97"/>
<circle cx="607.94" cy="261.5" r="2.6" fill="#2b7e97"/>
<circle cx="629.07" cy="253.2" r="2.6" fill="#2b7e97"/>
<circle cx="650.2" cy="243.8" r="2.6" fill="#2b7e97"/>
<path d="M553.2,282.3 L553.2,281.1 L576.2,281.1 L576.2,282.3 M564.7,281.1 L564.7,279.9" fill="none" stroke="#444" stroke-width="0.8"/>
<text transform="translate(553.2,285.4) scale(0.86,1)" font-family='"Liberation Serif", serif' font-size="4.5" font-style="italic" fill="#333">p- value= 0.07</text>
<line x1="557" y1="286.6" x2="565.6" y2="286.6" stroke="#e04848" stroke-width="0.6"/>
<path d="M575.6,273 L575.6,271.8 L598.8,271.8 L598.8,273 M587.2,271.8 L587.2,270.6" fill="none" stroke="#444" stroke-width="0.8"/>
<text transform="translate(575.6,276.5) scale(0.86,1)" font-family='"Liberation Serif", serif' font-size="4.5" font-style="italic" fill="#333">p- value= 0.009</text>
<line x1="579.4" y1="277.7" x2="588" y2="277.7" stroke="#e04848" stroke-width="0.6"/>
<path d="M596.1,280.6 L596.1,279.4 L620,279.4 L620,280.6 M608.05,279.4 L608.05,278.2" fill="none" stroke="#444" stroke-width="0.8"/>
<text transform="translate(596.1,284.7) scale(0.86,1)" font-family='"Liberation Serif", serif' font-size="4.5" font-style="italic" fill="#333">p- value= 0.008</text>
<line x1="599.9" y1="285.9" x2="608.5" y2="285.9" stroke="#e04848" stroke-width="0.6"/>
<path d="M617.1,266.1 L617.1,264.9 L640.5,264.9 L640.5,266.1 M628.8,264.9 L628.8,263.7" fill="none" stroke="#444" stroke-width="0.8"/>
<text transform="translate(617.1,269.8) scale(0.86,1)" font-family='"Liberation Serif", serif' font-size="4.5" font-style="italic" fill="#333">p- value= 0.01</text>
<line x1="620.9" y1="271" x2="629.5" y2="271" stroke="#e04848" stroke-width="0.6"/>
</svg>
</body></html>
